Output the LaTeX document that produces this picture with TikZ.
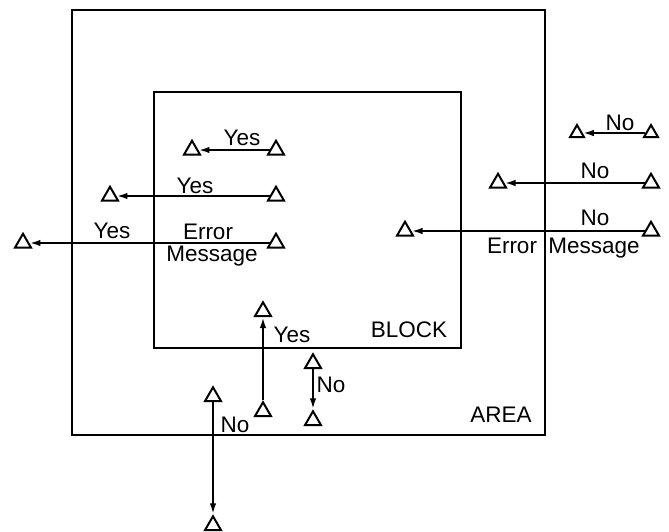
\documentclass[tikz,border=0pt]{standalone}
\usepackage{fontspec}
\setmainfont{Liberation Sans}
\usetikzlibrary{shapes.geometric,arrows.meta}
\begin{document}
\begin{tikzpicture}[x=1pt,y=-1pt,
  tri/.style={draw,regular polygon,regular polygon sides=3,minimum size=18.5pt,inner sep=0pt,line width=2pt},
  smalltri/.style={tri,minimum size=16pt},
  conn/.style={line width=2.1pt,-{Latex[length=11pt,width=6.5pt]}},
  frame/.style={draw,line width=1.8pt},
  lbl/.style={anchor=base,inner sep=0pt,font=\fontsize{22.5}{24}\selectfont}]
\useasboundingbox (0,0) rectangle (669,531);
% rectangles
\draw[frame] (72,10) rectangle (545,435);
\draw[frame] (154,92) rectangle (461,348);
% triangles, left group
\node[tri] (y1r) at (276,150) {};
\node[tri] (y1l) at (192,150) {};
\node[tri] (y2r) at (276,196) {};
\node[tri] (y2l) at (110,196) {};
\node[tri] (y3r) at (276,243) {};
\node[tri] (y3l) at (23,243) {};
% right group
\node[smalltri] (n1r) at (651,133) {};
\node[smalltri] (n1l) at (577,133) {};
\node[tri] (n2r) at (651,183) {};
\node[tri] (n2l) at (498,183) {};
\node[tri] (n3r) at (651,231) {};
\node[tri] (n3l) at (405,231) {};
% vertical
\node[tri] (vyb) at (263,411.5) {};
\node[tri] (vyt) at (263,311.5) {};
\node[tri] (mnt) at (313,363.5) {};
\node[tri] (mnb) at (313,420.5) {};
\node[tri] (lnt) at (213,396.5) {};
\node[tri] (lnb) at (213,525.5) {};
% connectors
\draw[conn] (y1r) -- (y1l);
\draw[conn] (y2r) -- (y2l);
\draw[conn] (y3r) -- (y3l);
\draw[conn] (n1r) -- (n1l);
\draw[conn] (n2r) -- (n2l);
\draw[conn] (n3r) -- (n3l);
\draw[conn] (vyb) -- (vyt);
\draw[conn] (mnt) -- (mnb);
\draw[conn] (lnt) -- (lnb);
% labels
\node[lbl] (t1) at (242,145) {Yes};
\node[lbl] (t2) at (195,193) {Yes};
\node[lbl] (t3) at (208,239) {Error};
\node[lbl] (t4) at (212,261) {Message};
\node[lbl] (t5) at (112,238) {Yes};
\node[lbl] (t6) at (620,130) {No};
\node[lbl] (t7) at (595,178) {No};
\node[lbl] (t8) at (595,225) {No};
\node[lbl] (t9) at (512,253) {Error};
\node[lbl] (t10) at (594,253) {Message};
\node[lbl] (t11) at (409,337) {BLOCK};
\node[lbl] (t12) at (501,422) {AREA};
\node[lbl] (t13) at (292,342) {Yes};
\node[lbl] (t14) at (331,392) {No};
\node[lbl] (t15) at (235,432) {No};
\end{tikzpicture}
\end{document}
